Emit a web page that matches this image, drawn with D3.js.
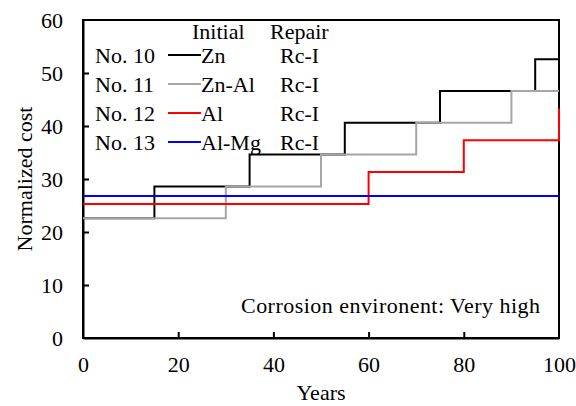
<!DOCTYPE html>
<html>
<head>
<meta charset="utf-8">
<script src="https://cdn.jsdelivr.net/npm/d3@7"></script>
<style>
  body { margin: 0; background: #fff; }
  text { font-family: "Liberation Serif", "Times New Roman", serif; fill: #000; }
</style>
</head>
<body>
<div id="chart"></div>
<script>
const width = 576;
const height = 406;
const margin = {top: 20, right: 17, bottom: 68, left: 83};
const fontSize = "22px";

// Data
const seriesNames = ["No. 10", "No. 11", "No. 12", "No. 13"];
const initialCoats = ["Zn", "Zn-Al", "Al", "Al-Mg"];
const repairTypes = ["Rc-I", "Rc-I", "Rc-I", "Rc-I"];
const seriesColors = ["#000000", "#a6a6a6", "#ff0000", "#0000ff"];

const znYears = [0, 15, 35, 55, 75, 95, 100];
const znCost = [22.6, 28.6, 34.6, 40.6, 46.6, 52.6, 52.6];
const znAlYears = [0, 30, 50, 70, 90, 100];
const znAlCost = [22.6, 28.6, 34.6, 40.6, 46.6, 46.6];
const alYears = [0, 60, 80, 100];
const alCost = [25.3, 31.3, 37.3, 43.3];
const alMgYears = [0, 100];
const alMgCost = [26.8, 26.8];

const xTicks = [0, 20, 40, 60, 80, 100];
const yTicks = [0, 10, 20, 30, 40, 50, 60];

const series = [
  {years: znYears, cost: znCost},
  {years: znAlYears, cost: znAlCost},
  {years: alYears, cost: alCost},
  {years: alMgYears, cost: alMgCost}
];

const svg = d3.select("#chart").append("svg")
  .attr("width", width)
  .attr("height", height);

const x = d3.scaleLinear().domain([0, 100]).range([margin.left, width - margin.right]);
const y = d3.scaleLinear().domain([0, 60]).range([height - margin.bottom, margin.top]);

// frame
svg.append("rect")
  .attr("x", x(0)).attr("y", y(60))
  .attr("width", x(100) - x(0)).attr("height", y(0) - y(60))
  .attr("fill", "none").attr("stroke", "#000").attr("stroke-width", 2);

// axes, ticks inside
const xAxis = svg.append("g")
  .attr("transform", `translate(0,${y(0)})`)
  .call(d3.axisBottom(x).tickValues(xTicks).tickSizeInner(-6).tickSizeOuter(0).tickPadding(18));
const yAxis = svg.append("g")
  .attr("transform", `translate(${x(0)},0)`)
  .call(d3.axisLeft(y).tickValues(yTicks).tickSizeInner(-6).tickSizeOuter(0).tickPadding(20));

[xAxis, yAxis].forEach(g => {
  g.attr("font-family", null).attr("font-size", null);
  g.select(".domain").attr("stroke-width", 2);
  g.selectAll(".tick line").attr("stroke-width", 2);
  g.selectAll(".tick text").style("font-size", fontSize);
});
xAxis.selectAll(".tick line").filter(d => d === 0 || d === 100).remove();
yAxis.selectAll(".tick line").filter(d => d === 0 || d === 60).remove();

// step lines (drawn over the frame, like the red step at year 100)
const line = d3.line()
  .x(d => x(d[0]))
  .y(d => y(d[1]))
  .curve(d3.curveStepAfter);

series.forEach((s, i) => {
  svg.append("path")
    .attr("fill", "none")
    .attr("stroke", seriesColors[i])
    .attr("stroke-width", 2)
    .attr("d", line(s.years.map((yr, j) => [yr, s.cost[j]])));
});

// axis titles
svg.append("text")
  .attr("x", x(50)).attr("y", 400)
  .attr("text-anchor", "middle")
  .style("font-size", fontSize)
  .text("Years");

svg.append("text")
  .attr("transform", `translate(32,179) rotate(-90)`)
  .attr("text-anchor", "middle")
  .style("font-size", fontSize)
  .text("Normalized cost");

// legend
svg.append("text").attr("x", 192).attr("y", 39).style("font-size", fontSize).text("Initial");
svg.append("text").attr("x", 270).attr("y", 39).style("font-size", fontSize).text("Repair");

seriesNames.forEach((name, i) => {
  const ly = 55 + i * 29;
  svg.append("text").attr("x", 95).attr("y", ly + 7.5).style("font-size", fontSize).text(name);
  svg.append("line")
    .attr("x1", 168).attr("x2", 201)
    .attr("y1", ly).attr("y2", ly)
    .attr("stroke", seriesColors[i]).attr("stroke-width", 2);
  svg.append("text").attr("x", 201).attr("y", ly + 7.5).style("font-size", fontSize).text(initialCoats[i]);
  svg.append("text").attr("x", 280).attr("y", ly + 7.5).style("font-size", fontSize).text(repairTypes[i]);
});

svg.append("text")
  .attr("x", 241).attr("y", 313)
  .style("font-size", fontSize)
  .attr("textLength", 299)
  .text("Corrosion environent: Very high");
</script>
</body>
</html>
